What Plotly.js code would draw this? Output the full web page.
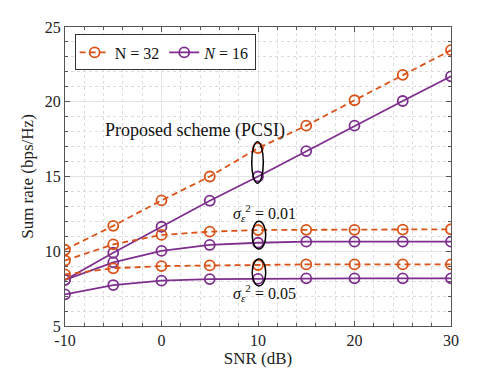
<!DOCTYPE html>
<html>
<head>
<meta charset="utf-8">
<script src="https://cdn.plot.ly/plotly-3.0.1.min.js"></script>
<style>
  body { margin: 0; background: #fff; }
  #chart { width: 498px; height: 374px; }
</style>
</head>
<body>
<div id="chart"></div>
<script>
// SNR (dB)
const snr = [-10, -5, 0, 5, 10, 15, 20, 25, 30];

// Proposed scheme (PCSI)
const pcsi32 = [10.1, 11.7, 13.4, 15.0, 16.9, 18.4, 20.1, 21.8, 23.45];
const pcsi16 = [8.08, 9.9, 11.64, 13.38, 15.0, 16.7, 18.4, 20.05, 21.7];

// sigma^2 = 0.01
const s01_32 = [9.38, 10.46, 11.09, 11.31, 11.42, 11.43, 11.43, 11.45, 11.47];
const s01_16 = [8.08, 9.26, 10.02, 10.42, 10.57, 10.64, 10.64, 10.64, 10.64];

// sigma^2 = 0.05
const s05_32 = [8.45, 8.86, 9.01, 9.05, 9.08, 9.12, 9.12, 9.12, 9.12];
const s05_16 = [7.12, 7.74, 8.03, 8.14, 8.15, 8.19, 8.19, 8.19, 8.19];

const orange = '#D95319';
const purple = '#7E2F8E';
const serif = 'Liberation Serif, serif';

function serie(y, col, dash, nom, legende) {
    return {
        x: snr, y: y,
        type: 'scatter',
        mode: 'lines+markers',
        line: { color: col, width: 1.8, dash: dash },
        marker: { symbol: 'circle-open', size: 10, color: col, line: { width: 1.8, color: col } },
        name: nom,
        legendgroup: nom,
        showlegend: legende
    };
}

const traces = [
    serie(pcsi32, orange, '6px,4px', 'N = 32', true),
    serie(pcsi16, purple, 'solid', '<i>N</i> = 16', true),
    serie(s01_32, orange, '6px,4px', 'N = 32', false),
    serie(s01_16, purple, 'solid', '<i>N</i> = 16', false),
    serie(s05_32, orange, '6px,4px', 'N = 32', false),
    serie(s05_16, purple, 'solid', '<i>N</i> = 16', false)
];

// Ellipses autour des points à SNR = 10 dB
function ellipse(x0, x1, y0, y1) {
    return { type: 'circle', xref: 'x', yref: 'y', x0: x0, x1: x1, y0: y0, y1: y1,
             line: { color: '#000', width: 1.5 } };
}

const layout = {
    width: 498, height: 374,
    margin: { l: 65, r: 47, t: 27, b: 48 },
    paper_bgcolor: '#fff',
    plot_bgcolor: '#fff',
    font: { family: serif, size: 16, color: '#222' },
    showlegend: true,
    legend: {
        x: 0.025, y: 0.975, xanchor: 'left', yanchor: 'top',
        orientation: 'h',
        bgcolor: '#fff', bordercolor: '#333', borderwidth: 1,
        font: { family: serif, size: 16, color: '#111' },
        itemwidth: 30, tracegroupgap: 0
    },
    xaxis: {
        range: [-10, 30], dtick: 10,
        tickvals: [-10, 0, 10, 20, 30], ticktext: ['-10', '0', '10', '20', '30'],
        title: { text: 'SNR (dB)', font: { family: serif, size: 17, color: '#222' }, standoff: 3 },
        showline: true, linecolor: '#555', linewidth: 1, mirror: 'ticks',
        ticks: 'inside', ticklen: 5, tickcolor: '#555',
        showgrid: true, gridcolor: '#e4e4e4', gridwidth: 1,
        minor: { dtick: 2, showgrid: true, gridcolor: '#dcdcdc', griddash: 'dot', ticks: 'inside', ticklen: 3, tickcolor: '#555' },
        zeroline: false,
        tickfont: { family: serif, size: 16, color: '#222' }
    },
    yaxis: {
        range: [5, 25], dtick: 5,
        title: { text: 'Sum rate (bps/Hz)', font: { family: serif, size: 17, color: '#222' }, standoff: 6 },
        showline: true, linecolor: '#555', linewidth: 1, mirror: 'ticks',
        ticks: 'inside', ticklen: 5, tickcolor: '#555',
        showgrid: true, gridcolor: '#e4e4e4', gridwidth: 1,
        minor: { dtick: 1, showgrid: true, gridcolor: '#dcdcdc', griddash: 'dot', ticks: 'inside', ticklen: 3, tickcolor: '#555' },
        zeroline: false,
        tickfont: { family: serif, size: 16, color: '#222' }
    },
    shapes: [
        ellipse(9.35, 10.55, 14.55, 17.33),
        ellipse(9.4, 10.8, 10.15, 12.0),
        ellipse(9.4, 10.8, 7.68, 9.48)
    ],
    annotations: [
        { x: 3.45, y: 18.1, xref: 'x', yref: 'y', text: 'Proposed scheme (PCSI)', showarrow: false,
          font: { family: serif, size: 18, color: '#111' } },
        { x: 10.7, y: 12.56, xref: 'x', yref: 'y', text: '<i>σ</i><sub><i>ε</i></sub><sup>2</sup> = 0.01', showarrow: false,
          font: { family: serif, size: 16, color: '#111' } },
        { x: 10.7, y: 7.2, xref: 'x', yref: 'y', text: '<i>σ</i><sub><i>ε</i></sub><sup>2</sup> = 0.05', showarrow: false,
          font: { family: serif, size: 16, color: '#111' } }
    ]
};

Plotly.newPlot('chart', traces, layout, { displayModeBar: false, staticPlot: true });
</script>
</body>
</html>
